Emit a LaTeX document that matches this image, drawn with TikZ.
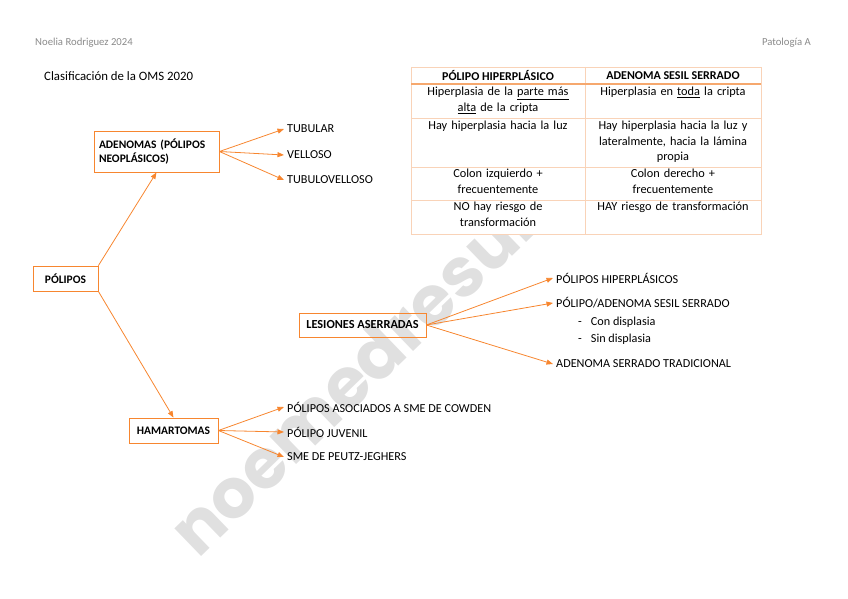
\documentclass[tikz,border=0pt]{standalone}
\usepackage{fontspec}
\setmainfont{Carlito}
\newfontfamily\wmfont{Poppins}
\usetikzlibrary{arrows.meta}
\definecolor{org}{HTML}{F7862F}
\definecolor{tbl}{HTML}{F9D3B8}
\definecolor{tblh}{HTML}{F6A86E}
\definecolor{hdrgray}{HTML}{8A8A8A}
\begin{document}
\begin{tikzpicture}[x=1pt,y=-1pt,
  boxn/.style={draw=org, line width=0.8pt, font=\bfseries\fontsize{11.5}{13.5}\selectfont, inner sep=0pt, align=left},
  leaf/.style={anchor=west, inner sep=3pt, font=\fontsize{12.2}{14}\selectfont},
  arr/.style={draw=org, line width=0.8pt, -{Triangle[length=6.5pt,width=5pt]}},
  cell/.style={anchor=north, inner sep=0pt, text width=170pt, align=center, font=\fontsize{12.3}{15.5}\selectfont},
  hdr/.style={inner sep=0pt, font=\bfseries\fontsize{12}{14}\selectfont},
  tline/.style={draw=tbl, line width=0.8pt}]
\useasboundingbox (0,0) rectangle (848,599);
% watermark
\node[rotate=44, anchor=base west, text=black!12, font=\wmfont\bfseries\fontsize{69}{69}\selectfont, inner sep=0pt] (wm) at (198,560) {noemedresumen};
% header texts
\node[anchor=west, text=hdrgray, font=\fontsize{10.7}{12}\selectfont, inner sep=0pt] (auth) at (35,43) {Noelia Rodriguez 2024};
\node[anchor=east, text=hdrgray, font=\fontsize{10.7}{12}\selectfont, inner sep=0pt] (pat) at (811,43) {Patología A};
\node[anchor=west, inner sep=0pt, font=\fontsize{12.8}{15}\selectfont] (oms) at (44,76) {Clasificación de la OMS 2020};
% table
\fill[white] (411,67) rectangle (761,234);
\draw[tline] (411,67) rectangle (761,234);
\draw[tline] (585,67) -- (585,234);
\draw[tline] (411,118) -- (761,118);
\draw[tline] (411,167) -- (761,167);
\draw[tline] (411,200) -- (761,200);
\draw[draw=tblh, line width=1.6pt] (411,84) -- (761,84);
\node[hdr] (h1) at (498,76) {PÓLIPO HIPERPLÁSICO};
\node[hdr] (h2) at (673,76) {ADENOMA SESIL SERRADO};
\node[cell] (c11) at (498,87) {Hiperplasia de la \underline{parte más}\\\underline{alta} de la cripta};
\node[cell] (c12) at (673,87) {Hiperplasia en \underline{toda} la cripta};
\node[cell] (c21) at (498,121) {Hay hiperplasia hacia la luz};
\node[cell] (c22) at (673,121) {Hay hiperplasia hacia la luz y\\lateralmente, hacia la lámina\\propia};
\node[cell] (c31) at (498,169) {Colon izquierdo +\\frecuentemente};
\node[cell] (c32) at (673,169) {Colon derecho +\\frecuentemente};
\node[cell] (c41) at (498,202) {NO hay riesgo de\\transformación};
\node[cell] (c42) at (673,202) {HAY riesgo de transformación};
% boxes
\node[boxn, minimum width=65pt, minimum height=25pt, align=center] (pol) at (65.5,278.5) {PÓLIPOS};
\node[boxn, minimum width=125pt, minimum height=41pt, text width=115pt] (ade) at (156.5,151.5) {ADENOMAS (PÓLIPOS\\NEOPLÁSICOS)};
\node[boxn, minimum width=89pt, minimum height=25pt, align=center] (ham) at (173.5,430.5) {HAMARTOMAS};
\node[boxn, minimum width=127pt, minimum height=24pt, align=center, font=\bfseries\fontsize{12.3}{14}\selectfont] (les) at (362.5,325) {LESIONES ASERRADAS};
% leaves
\node[leaf] (tub) at (284,129) {TUBULAR};
\node[leaf] (vel) at (284,155) {VELLOSO};
\node[leaf] (tv) at (284,180) {TUBULOVELLOSO};
\node[leaf] (ph) at (553,278) {PÓLIPOS HIPERPLÁSICOS};
\node[leaf] (pa) at (553,303) {PÓLIPO/ADENOMA SESIL SERRADO};
\node[leaf] (cd) at (575,322) {-\hspace{9pt}Con displasia};
\node[leaf] (sd) at (575,339) {-\hspace{9pt}Sin displasia};
\node[leaf] (ast) at (553,364) {ADENOMA SERRADO TRADICIONAL};
\node[leaf] (pc) at (284,407) {PÓLIPOS ASOCIADOS A SME DE COWDEN};
\node[leaf] (pj) at (284,432) {PÓLIPO JUVENIL};
\node[leaf] (pjg) at (284,457) {SME DE PEUTZ-JEGHERS};
% connectors
\draw[arr] (pol.north east) -- (ade.south);
\draw[arr] (pol.south east) -- (ham.north);
\draw[arr] (ade.east) -- (tub.west);
\draw[arr] (ade.east) -- (vel.west);
\draw[arr] (ade.east) -- (tv.west);
\draw[arr] (les.east) -- (ph.west);
\draw[arr] (les.east) -- (pa.west);
\draw[arr] (les.east) -- (ast.west);
\draw[arr] (ham.east) -- (pc.west);
\draw[arr] (ham.east) -- (pj.west);
\draw[arr] (ham.east) -- (pjg.west);
\end{tikzpicture}
\end{document}
